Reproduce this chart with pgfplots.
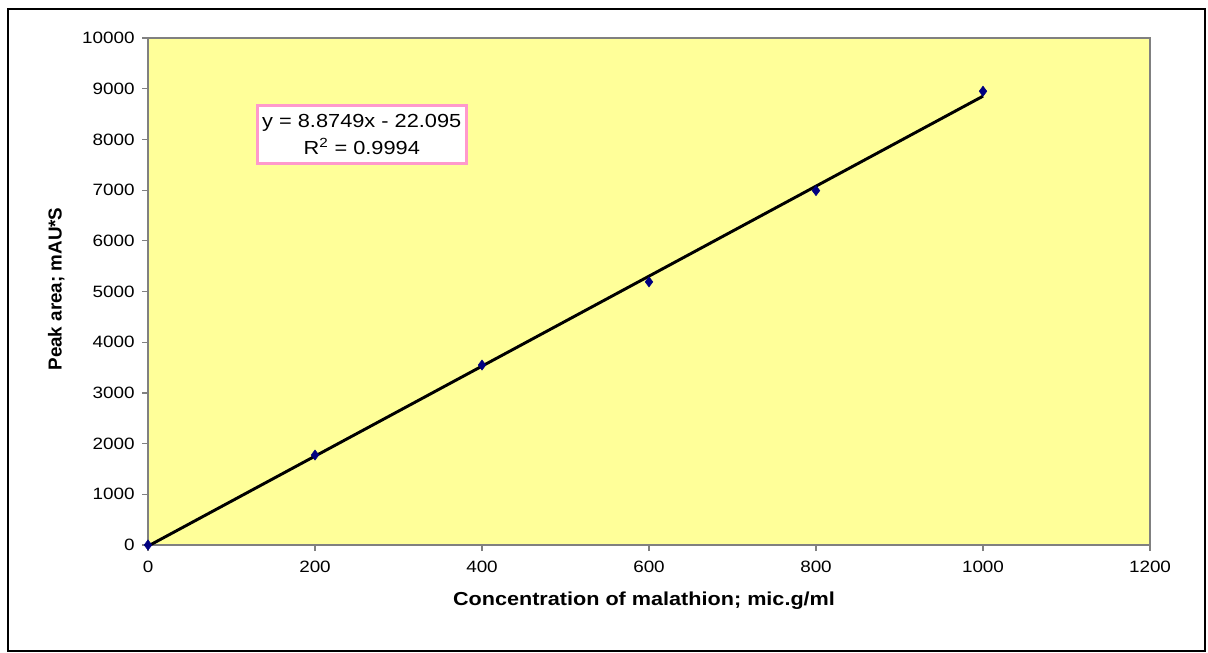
\documentclass[border=0pt]{standalone}
\usepackage{pgfplots}
\pgfplotsset{compat=1.18}
\usepackage{fontspec}
\setmainfont[FakeStretch=1.15]{Liberation Sans}
\newfontfamily\plainsans{Liberation Sans}
\definecolor{plotyellow}{HTML}{FFFF99}
\definecolor{navy}{HTML}{000080}
\definecolor{boxpink}{HTML}{FF99CC}
\definecolor{axgray}{HTML}{808080}
\begin{document}
\begin{tikzpicture}
\useasboundingbox (0pt,0pt) rectangle (906pt,-489.75pt);
\draw[line width=1.6pt,black] (6pt,-6.75pt) rectangle (903.75pt,-488.25pt);
\begin{axis}[
  at={(111pt,-408.75pt)}, anchor=south west,
  scale only axis, width=751.5pt, height=380.25pt,
  xmin=0, xmax=1200, ymin=0, ymax=10000,
  xtick={0,200,...,1200}, ytick={0,1000,...,10000},
  scaled y ticks=false, scaled x ticks=false,
  axis lines=left, axis line style={-, draw=axgray, line width=0.9pt},
  axis background/.style={fill=plotyellow, draw=axgray, line width=0.9pt},
  tick style={draw=axgray, line width=0.9pt},
  tick align=outside, major tick length=4.5pt,
  /pgf/number format/assume math mode=true,
  /pgf/number format/.cd, 1000 sep={}, /pgfplots/.cd,
  ticklabel style={font=\fontsize{12.3}{14}\selectfont, text=black},
  yticklabel style={xshift=-2pt},
  xticklabel style={yshift=-4pt},
  xlabel={\textbf{Concentration of malathion; mic.g/ml}},
  ylabel={\plainsans\bfseries Peak area; mAU*S},
  label style={font=\fontsize{14.1}{16}\selectfont},
  xlabel style={at={(axis description cs:0.495,-0.110)}, anchor=center},
  ylabel style={at={(axis description cs:-0.0915,0.505)}, anchor=center},
  clip=false,
]
\addplot[black, line width=2.2pt] coordinates {(0,-22.095) (1000,8852.8)};
\addplot[only marks, mark=diamond*, mark size=3.8pt, color=navy] coordinates {
(0,0) (200,1775) (400,3550) (600,5190) (800,6990) (1000,8950)};
\node[draw=boxpink, line width=2.2pt, fill=white, minimum width=157pt, minimum height=43pt, align=center, inner sep=1pt,
  font=\fontsize{14.2}{20}\selectfont] at (axis cs:256,8097)
  {y = 8.8749x - 22.095\\R\textsuperscript{2} = 0.9994};
\end{axis}
\end{tikzpicture}
\end{document}
